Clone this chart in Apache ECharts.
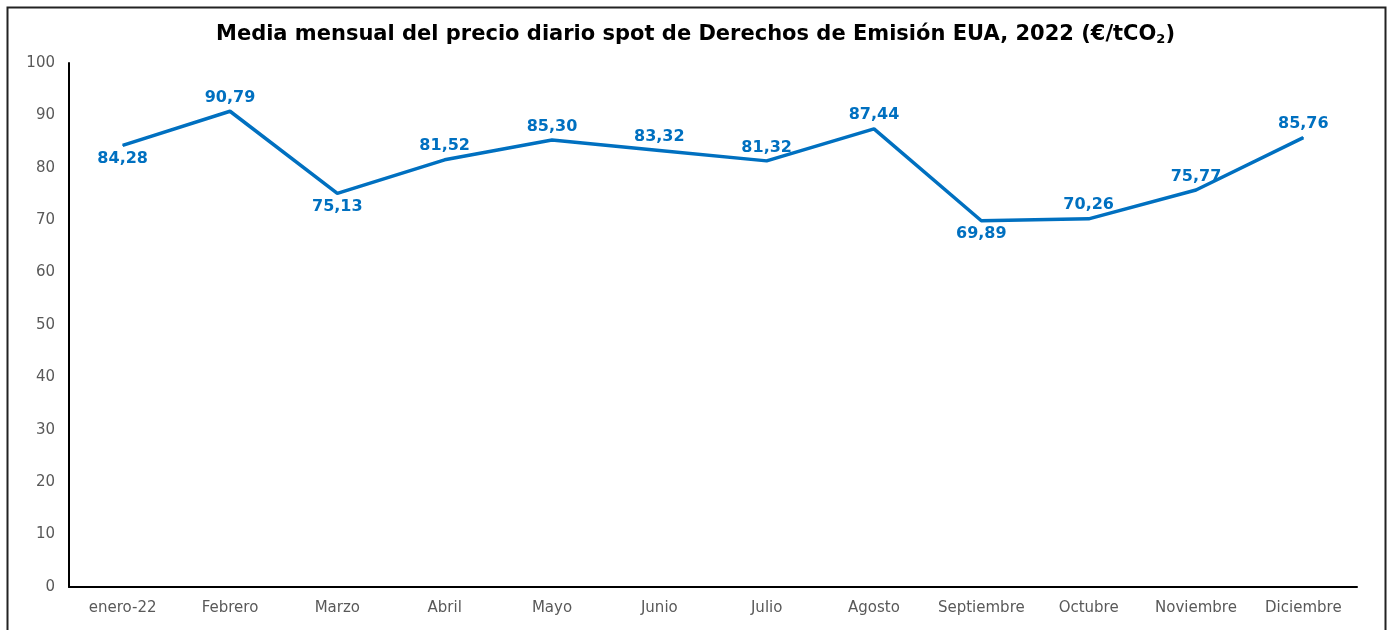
<!DOCTYPE html>
<html lang="es">
<head>
<meta charset="UTF-8">
<title>EUA 2022</title>
<script src="https://cdn.jsdelivr.net/npm/echarts@6/dist/echarts.min.js"></script>
<style>
  html, body { margin: 0; padding: 0; background: #fff; }
  #chart { width: 1391px; height: 630px; }
</style>
</head>
<body>
<div id="chart"></div>
<script>
// meses y valores
const meses = ['enero-22', 'Febrero', 'Marzo', 'Abril', 'Mayo', 'Junio', 'Julio',
  'Agosto', 'Septiembre', 'Octubre', 'Noviembre', 'Diciembre'];
const precios = [84.28, 90.79, 75.13, 81.52, 85.30, 83.32, 81.32, 87.44, 69.89, 70.26, 75.77, 85.76];
// etiquetas que van debajo del punto
const etiquetaAbajo = [0, 2, 8];

const azul = '#0070C0';

const datos = precios.map((v, i) => ({
  value: v,
  label: { position: etiquetaAbajo.includes(i) ? 'bottom' : 'top' }
}));

const chart = echarts.init(document.getElementById('chart'));
chart.setOption({
  animation: false,
  title: {
    text: '{t|Media mensual del precio diario spot de Derechos de Emisión EUA, 2022 (€/tCO}{s|2}{t|)}',
    left: 'center',
    top: 18,
    textStyle: {
      rich: {
        t: { fontFamily: 'DejaVu Sans', fontWeight: 'bold', fontSize: 21, color: '#000' },
        s: { fontFamily: 'DejaVu Sans', fontWeight: 'bold', fontSize: 13, color: '#000', verticalAlign: 'bottom', padding: [10, 0, 0, 0] }
      }
    }
  },
  graphic: [{
    type: 'rect',
    shape: { x: 7.5, y: 7.5, width: 1378, height: 640 },
    style: { fill: null, stroke: '#222', lineWidth: 2 },
    silent: true
  }],
  grid: { left: 69, right: 34, top: 63, bottom: 43 },
  xAxis: {
    type: 'category',
    data: meses,
    axisLine: { lineStyle: { color: '#000', width: 2 } },
    axisTick: { show: false },
    axisLabel: { interval: 0, color: '#595959', fontSize: 15, fontFamily: 'DejaVu Sans', margin: 14 }
  },
  yAxis: {
    type: 'value',
    min: 0,
    max: 100,
    interval: 10,
    axisLine: { show: true, lineStyle: { color: '#000', width: 2 } },
    axisTick: { show: false },
    splitLine: { show: false },
    axisLabel: { color: '#595959', fontSize: 15, fontFamily: 'DejaVu Sans', margin: 14 }
  },
  series: [{
    type: 'line',
    data: datos,
    symbol: 'circle',
    symbolSize: 1,
    showSymbol: true,
    itemStyle: { color: azul },
    lineStyle: { color: azul, width: 3.5 },
    label: {
      show: true,
      color: azul,
      fontWeight: 'bold',
      fontSize: 16,
      fontFamily: 'DejaVu Sans',
      distance: 5,
      formatter: p => p.value.toFixed(2).replace('.', ',')
    }
  }]
});
</script>
</body>
</html>
